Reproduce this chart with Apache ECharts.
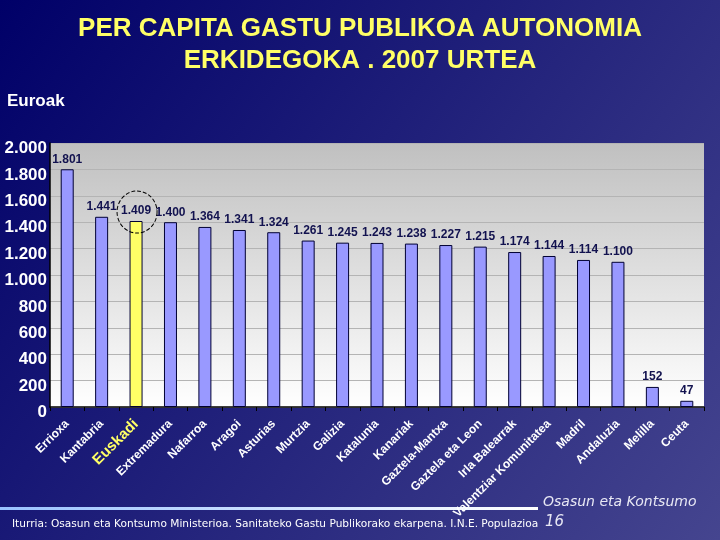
<!DOCTYPE html>
<html>
<head>
<meta charset="utf-8">
<script src="https://cdn.jsdelivr.net/npm/echarts@6/dist/echarts.min.js"></script>
<style>
html,body{margin:0;padding:0;width:720px;height:540px;overflow:hidden;}
#c{width:720px;height:540px;}
</style>
</head>
<body>
<div id="c"></div>
<script>
var categories = ["Errioxa","Kantabria","Euskadi","Extremadura","Nafarroa","Aragoi","Asturias","Murtzia","Galizia","Katalunia","Kanariak","Gaztela-Mantxa","Gaztela eta Leon","Irla Balearrak","Valentziar Komunitatea","Madril","Andaluzia","Melilla","Ceuta"];
var values = [1801,1441,1409,1400,1364,1341,1324,1261,1245,1243,1238,1227,1215,1174,1144,1114,1100,152,47];
var highlight = "Euskadi";
var yMin = 0, yMax = 2000, yStep = 200;

function fmt(v){ return String(v).replace(/\B(?=(\d{3})+(?!\d))/g, '.'); }

var chart = echarts.init(document.getElementById('c'));
var data = values.map(function(v, i){
  var isH = categories[i] === highlight;
  return {value: v, itemStyle: {color: isH ? '#ffff66' : '#9999ff'}};
});

chart.setOption({
  backgroundColor: new echarts.graphic.LinearGradient(0,0,1,1,[{offset:0,color:'#000068'},{offset:1,color:'#45458f'}]),
  animation: false,
  grid: {left: 50, right: 16, top: 143, bottom: 133},
  graphic: [
    {type:'rect', z:-1, shape:{x:50,y:143,width:654,height:264},
     style:{fill:new echarts.graphic.LinearGradient(0,0,0,1,[{offset:0,color:'#c0c0c0'},{offset:1,color:'#ffffff'}])}},
    {type:'text', left:'center', top:13, style:{text:'PER CAPITA GASTU PUBLIKOA AUTONOMIA\nERKIDEGOKA . 2007 URTEA', fill:'#ffff66', font:'bold 26px "Liberation Sans", Arial, sans-serif', textAlign:'center', lineHeight:32}},
    {type:'text', left:7, top:93, style:{text:'Euroak', fill:'#ffffff', font:'bold 17px "Liberation Sans", Arial, sans-serif'}},
    {type:'rect', shape:{x:0,y:507,width:538,height:3},
     style:{fill:new echarts.graphic.LinearGradient(0,0,1,0,[{offset:0,color:'#99c2ff'},{offset:1,color:'#ffffff'}])}},
    {type:'text', left:543, top:495, style:{text:'Osasun eta Kontsumo', fill:'#e8e8f4', font:'italic 14px "DejaVu Sans", sans-serif'}},
    {type:'text', left:545, top:515, style:{text:'16', fill:'#e8e8f4', font:'italic 15px "DejaVu Sans", sans-serif'}},
    {type:'text', left:12, top:519, style:{text:'Iturria: Osasun eta Kontsumo Ministerioa. Sanitateko Gastu Publikorako ekarpena. I.N.E. Populazioa', fill:'#ffffff', font:'10.6px "DejaVu Sans", sans-serif'}}
  ],
  xAxis: {
    type: 'category',
    data: categories,
    axisLine: {lineStyle: {color: '#000000', width: 1.5}},
    axisTick: {show: true, length: 4, lineStyle: {color: '#000000'}},
    axisLabel: {
      interval: 0, rotate: 45, margin: 15,
      color: '#ffffff', fontWeight: 'bold', fontSize: 12,
      fontFamily: '"Liberation Sans", Arial, sans-serif',
      formatter: function(v){ return v === highlight ? '{h|' + v + '}' : v; },
      rich: {h: {color: '#ffff66', fontWeight: 'bold', fontSize: 15, fontFamily: '"Liberation Sans", Arial, sans-serif'}}
    }
  },
  yAxis: {
    type: 'value', min: yMin, max: yMax, interval: yStep,
    axisLine: {show: true, lineStyle: {color: '#000000', width: 1.5}},
    axisTick: {show: false},
    splitLine: {lineStyle: {color: '#b4b4b4', width: 1}},
    axisLabel: {color: '#ffffff', fontWeight: 'bold', fontSize: 17, margin: 3,
      verticalAlign: 'top', lineHeight: 11,
      fontFamily: '"Liberation Sans", Arial, sans-serif',
      formatter: function(v){ return fmt(v); }}
  },
  series: [{
    type: 'bar',
    data: data,
    barWidth: 13,
    itemStyle: {borderColor: '#000033', borderWidth: 1},
    label: {show: true, position: 'top', distance: 4, color: '#12124f', fontWeight: 'bold', fontSize: 12,
      fontFamily: '"Liberation Sans", Arial, sans-serif',
      formatter: function(p){ return fmt(p.value); }},
    markPoint: {
      data: [{coord: [highlight, values[categories.indexOf(highlight)]]}],
      symbol: 'circle', symbolSize: [40, 42], symbolOffset: [1, -9],
      itemStyle: {color: 'rgba(0,0,0,0)', borderColor: '#000000', borderWidth: 1, borderType: 'dashed'},
      label: {show: false}
    }
  }]
});
</script>
</body>
</html>
